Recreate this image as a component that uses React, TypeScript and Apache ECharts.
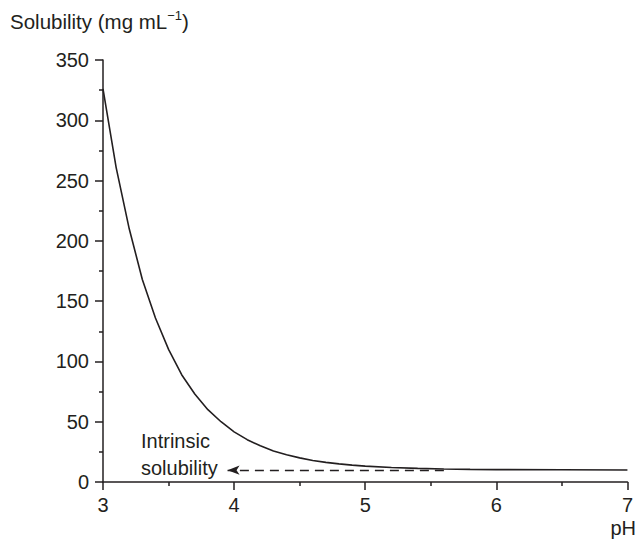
import React, { useEffect, useRef } from "react";
import * as echarts from "echarts";

const pH = [3.0, 3.1, 3.2, 3.3, 3.4, 3.5, 3.6, 3.7, 3.8, 3.9, 4.0, 4.1, 4.2, 4.3, 4.4, 4.5, 4.6, 4.7, 4.8, 4.9, 5.0, 5.2, 5.4, 5.6, 5.8, 6.0, 6.5, 7.0];
const solubility = [326, 261, 210, 168, 136, 110, 89, 73, 60, 50, 41.6, 35.1, 30, 25.8, 22.6, 20, 17.9, 16.3, 15.0, 14.0, 13.2, 12.0, 11.3, 10.8, 10.5, 10.3, 10.1, 10.0];
const arrowFrom = [5.6, 9.8];
const arrowTo = [3.95, 9.8];
const xTicks = [3, 4, 5, 6, 7];
const yTicks = [0, 50, 100, 150, 200, 250, 300, 350];

const INK = "#231f20";
const FONT = "Liberation Sans, Arial, Helvetica, sans-serif";

export default function App() {
  const ref = useRef<HTMLDivElement>(null);
  useEffect(() => {
    const chart = echarts.init(ref.current!, null, { renderer: "svg" });
    chart.setOption({
      animation: false,
      backgroundColor: "#ffffff",
      grid: { left: 103, right: 8, top: 60, bottom: 58, containLabel: false },
      xAxis: {
        type: "value",
        min: xTicks[0],
        max: xTicks[xTicks.length - 1],
        interval: 1,
        axisLine: { show: true, onZero: false, lineStyle: { color: INK, width: 1.5 } },
        axisTick: { show: true, length: 8, lineStyle: { color: INK, width: 1.5 } },
        minorTick: { show: true, splitNumber: 2, length: 4, lineStyle: { color: INK, width: 1.5 } },
        splitLine: { show: false },
        axisLabel: { color: INK, fontSize: 20, fontFamily: FONT, margin: 13 },
      },
      yAxis: {
        type: "value",
        min: yTicks[0],
        max: yTicks[yTicks.length - 1],
        interval: 50,
        axisLine: { show: true, onZero: false, lineStyle: { color: INK, width: 1.5 } },
        axisTick: { show: true, length: 8, lineStyle: { color: INK, width: 1.5 } },
        minorTick: { show: true, splitNumber: 2, length: 4, lineStyle: { color: INK, width: 1.5 } },
        splitLine: { show: false },
        axisLabel: { color: INK, fontSize: 20, fontFamily: FONT, margin: 14 },
      },
      series: [
        {
          type: "line",
          data: pH.map((x, i) => [x, solubility[i]]),
          showSymbol: false,
          smooth: false,
          lineStyle: { color: INK, width: 1.6 },
          markLine: {
            silent: true,
            symbol: ["none", "arrow"],
            symbolSize: [7, 12],
            label: { show: false },
            lineStyle: { color: INK, width: 1.4, type: [9, 6] },
            data: [[{ coord: arrowFrom }, { coord: arrowTo }]],
          },
        },
      ],
      graphic: [
        {
          type: "text",
          left: 10,
          top: 9,
          style: {
            text: "{a|Solubility (mg mL}{s|−1}{a|)}",
            rich: {
              a: { fontSize: 20.5, fontFamily: FONT, fill: INK, lineHeight: 25 },
              s: { fontSize: 13, fontFamily: FONT, fill: INK, verticalAlign: "top", padding: [0, 0, 10, 0] },
            },
          },
        },
        {
          type: "text",
          right: 0,
          top: 518,
          style: { text: "pH", fontSize: 20, fontFamily: FONT, fill: INK },
        },
        {
          type: "text",
          left: 141,
          top: 428,
          style: {
            text: "Intrinsic\nsolubility",
            fontSize: 20,
            lineHeight: 26.5,
            fontFamily: FONT,
            fill: INK,
          },
        },
      ],
    });
    return () => chart.dispose();
  }, []);
  return <div ref={ref} style={{ width: 636, height: 540, position: "absolute", left: 0, top: 0 }} />;
}
